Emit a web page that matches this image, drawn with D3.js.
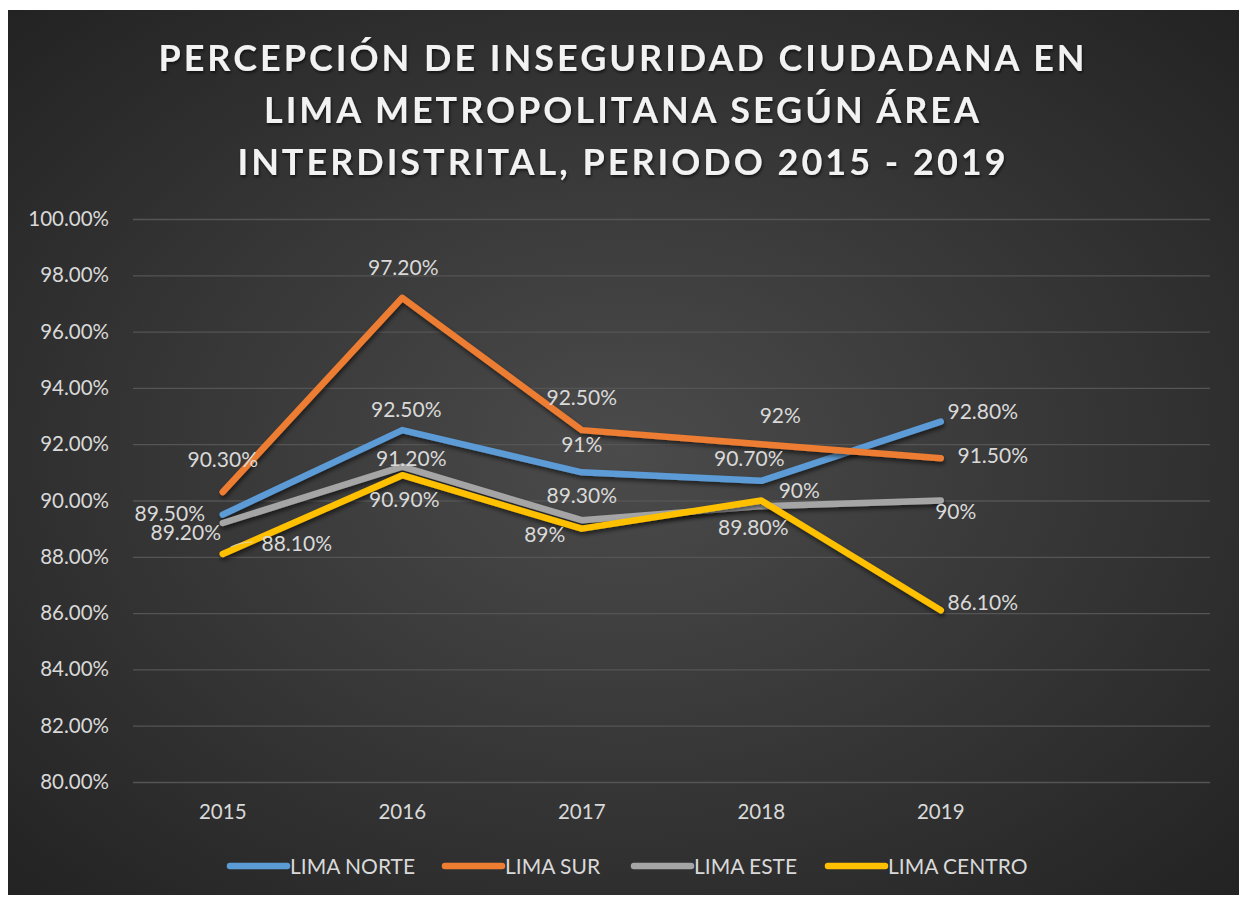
<!DOCTYPE html>
<html>
<head>
<meta charset="utf-8">
<script src="https://cdn.jsdelivr.net/npm/d3@7"></script>
<style>
  body { margin: 0; background: #fff; }
  text { font-family: Lato, "Open Sans", sans-serif; }
</style>
</head>
<body>
<svg id="chart" width="1243" height="898"></svg>
<script>
// data
const years = ['2015', '2016', '2017', '2018', '2019', ''];   // last slot is empty in the original
const limaNorte  = [89.5, 92.5, 91.0, 90.7, 92.8];
const limaSur    = [90.3, 97.2, 92.5, 92.0, 91.5];
const limaEste   = [89.2, 91.2, 89.3, 89.8, 90.0];
const limaCentro = [88.1, 90.9, 89.0, 90.0, 86.1];
const seriesNames = ['LIMA NORTE', 'LIMA SUR', 'LIMA ESTE', 'LIMA CENTRO'];
const yTicks = [80, 82, 84, 86, 88, 90, 92, 94, 96, 98, 100];
const titleLines = ['PERCEPCIÓN DE INSEGURIDAD CIUDADANA EN',
                    'LIMA METROPOLITANA SEGÚN ÁREA',
                    'INTERDISTRITAL, PERIODO 2015 - 2019'];

// label nudges from each point, as Excel left them: [dx of text centre, dy of baseline]
const labelNudge = [
  [[-53, 6], [4, -13], [0, -20], [-12, -15], [42, -3]],
  [[0, -25], [1, -23], [0, -25], [19, -21], [52, 5]],
  [[-37, 17], [9, -1], [0, -17], [-8, 29], [15, 18]],
  [[74, -3], [2, 32], [-37, 13], [38, -3], [42, 0]]
];

const colors = ['#5b9bd5', '#ed7d31', '#a5a5a5', '#ffc000'];
const allSeries = [limaNorte, limaSur, limaEste, limaCentro];

const svg = d3.select('#chart');
const defs = svg.append('defs');

const grad = defs.append('radialGradient')
    .attr('id', 'bg')
    .attr('cx', '50%').attr('cy', '50%').attr('r', '70%');
grad.append('stop').attr('offset', '0%').attr('stop-color', '#4b4b4b');
grad.append('stop').attr('offset', '100%').attr('stop-color', '#232323');

const shadow = defs.append('filter').attr('id', 'shadow')
    .attr('x', '-10%').attr('y', '-10%').attr('width', '120%').attr('height', '130%');
shadow.append('feDropShadow')
    .attr('dx', 1).attr('dy', 3).attr('stdDeviation', 2)
    .attr('flood-color', '#000').attr('flood-opacity', 0.55);

const tshadow = defs.append('filter').attr('id', 'tshadow');
tshadow.append('feDropShadow')
    .attr('dx', 1).attr('dy', 2).attr('stdDeviation', 1.5)
    .attr('flood-color', '#000').attr('flood-opacity', 0.6);

svg.append('rect')
    .attr('x', 8).attr('y', 10)
    .attr('width', 1231).attr('height', 885)
    .attr('fill', 'url(#bg)');

// title
svg.append('g').selectAll('text')
    .data(titleLines)
    .enter()
    .append('text')
    .attr('x', 623)
    .attr('y', (d, i) => 71 + i * 52)
    .attr('text-anchor', 'middle')
    .attr('font-size', 36)
    .attr('font-weight', 'bold')
    .attr('letter-spacing', 3)
    .attr('fill', '#f2f2f2')
    .attr('filter', 'url(#tshadow)')
    .text(d => d);

const margin = {left: 133, right: 1210, top: 219, bottom: 782};

const xScale = d3.scaleBand()
    .domain(years)
    .range([margin.left, margin.right]);

const yScale = d3.scaleLinear()
    .domain([80, 100])
    .range([margin.bottom, margin.top]);

const cx = i => xScale(years[i]) + xScale.bandwidth() / 2;

// gridlines + y labels
const yAxis = d3.axisLeft(yScale)
    .tickValues(yTicks)
    .tickSize(-(margin.right - margin.left))
    .tickPadding(24)
    .tickFormat(d => d.toFixed(2) + '%');

const gy = svg.append('g')
    .attr('transform', `translate(${margin.left},0)`)
    .call(yAxis);
gy.select('.domain').remove();
gy.selectAll('line').attr('stroke', '#555555').attr('stroke-width', 1.3);
gy.selectAll('text')
    .attr('fill', '#d9d9d9')
    .attr('font-size', 20.5)
    .attr('font-family', 'Lato, sans-serif');

// x labels
const xAxis = d3.axisBottom(xScale).tickSize(0).tickPadding(22);
const gx = svg.append('g')
    .attr('transform', `translate(0,${margin.bottom})`)
    .call(xAxis);
gx.select('.domain').remove();
gx.selectAll('text')
    .attr('fill', '#d9d9d9')
    .attr('font-size', 20.5)
    .attr('font-family', 'Lato, sans-serif');

// lines
const line = d3.line()
    .x((d, i) => cx(i))
    .y(d => yScale(d));

svg.append('g').selectAll('path')
    .data(allSeries)
    .enter()
    .append('path')
    .attr('d', d => line(d))
    .attr('fill', 'none')
    .attr('stroke', (d, i) => colors[i])
    .attr('stroke-width', 6.5)
    .attr('stroke-linecap', 'round')
    .attr('stroke-linejoin', 'round')
    .attr('filter', 'url(#shadow)');

// data labels
const fmt = v => (Number.isInteger(v) ? String(v) : v.toFixed(2)) + '%';

// leader line of the 2015 LIMA CENTRO label
svg.append('path')
    .attr('d', `M${cx(0) + 8},${yScale(limaCentro[0]) - 7} Q${cx(0) + 18},${yScale(limaCentro[0]) - 12} ${cx(0) + 30},${yScale(limaCentro[0]) - 12}`)
    .attr('fill', 'none')
    .attr('stroke', '#e0e0e0')
    .attr('stroke-opacity', 0.7)
    .attr('stroke-width', 1.2);

const labels = svg.append('g');
allSeries.forEach((vals, s) => {
  vals.forEach((v, i) => {
    const o = labelNudge[s][i];
    labels.append('text')
      .attr('x', cx(i) + o[0])
      .attr('y', yScale(v) + o[1])
      .attr('text-anchor', 'middle')
      .attr('font-size', 21)
      .attr('fill', '#d9d9d9')
      .text(fmt(v));
  });
});

// legend
const legendX = [230, 445, 634, 828];
const leg = svg.append('g').selectAll('g')
    .data(seriesNames)
    .enter()
    .append('g')
    .attr('transform', (d, i) => `translate(${legendX[i]},866)`);
leg.append('line')
    .attr('x1', 0).attr('x2', 57)
    .attr('stroke', (d, i) => colors[i])
    .attr('stroke-width', 6.5)
    .attr('stroke-linecap', 'round');
leg.append('text')
    .attr('x', 60)
    .attr('y', 8)
    .attr('font-size', 21)
    .attr('fill', '#d9d9d9')
    .text(d => d);
</script>
</body>
</html>
